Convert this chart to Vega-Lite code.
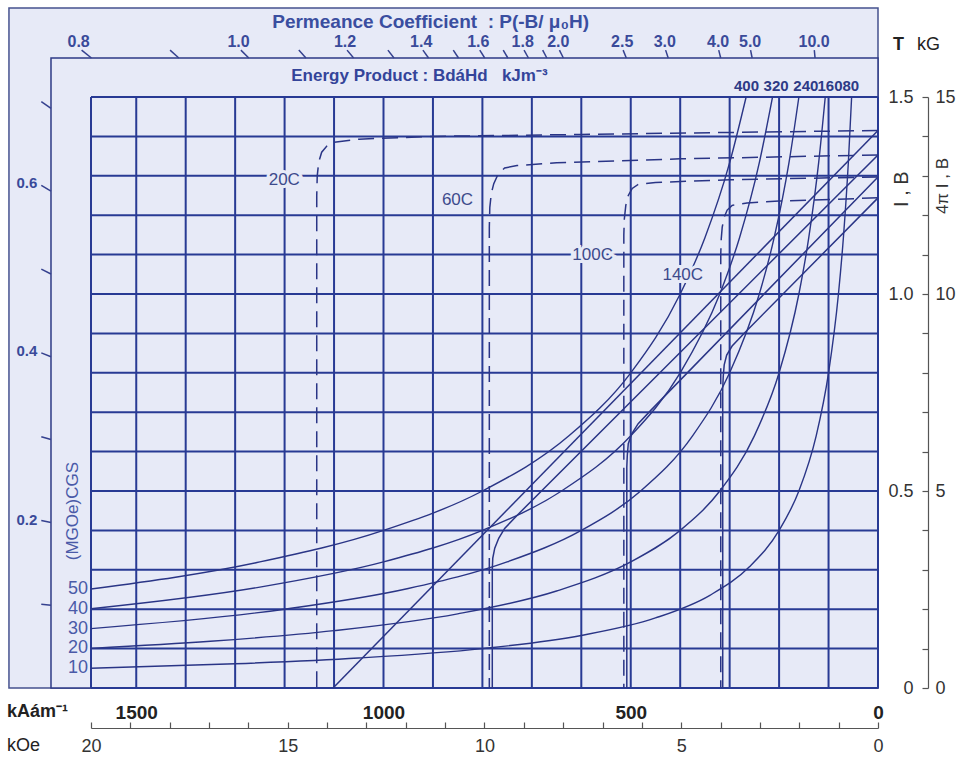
{
"$schema":"https://vega.github.io/schema/vega-lite/v6.json",
"width":787,"height":591,
"autosize":{"type":"none"},
"padding":{"left":91,"top":97,"right":83,"bottom":75},
"background":"#ffffff",
"config":{"view":{"stroke":null},"font":"Liberation Sans","text":{"font":"Liberation Sans"}},
"resolve":{"axis":{"x":"independent","y":"independent"}},
"encoding":{
 "x":{"field":"h","type":"quantitative","scale":{"domain":[0,1591.5],"reverse":true,"nice":false,"zero":false},"axis":null},
 "y":{"field":"b","type":"quantitative","scale":{"domain":[0,1.5],"nice":false,"zero":false},"axis":null}
},
"layer":[
 {"data":{"values":[{"h":1757.4,"h2":0,"b":0,"b2":1.726}]},
  "mark":{"type":"rect","fill":"#e7eaf7","stroke":"#46528f","strokeWidth":1.5},
  "encoding":{"x2":{"field":"h2"},"y2":{"field":"b2"}}},
 {"data":{"values":[{"h":1672.4,"h2":0,"b":0,"b2":1.599}]},
  "mark":{"type":"rect","fill":"#e7eaf7","stroke":"#2e3a86","strokeWidth":1.5},
  "encoding":{"x2":{"field":"h2"},"y2":{"field":"b2"}}},
 {"data":{"values":[
  {"h":0,"h2":0,"b":0,"b2":1.5},{"h":100,"h2":100,"b":0,"b2":1.5},{"h":200,"h2":200,"b":0,"b2":1.5},{"h":300,"h2":300,"b":0,"b2":1.5},{"h":400,"h2":400,"b":0,"b2":1.5},{"h":500,"h2":500,"b":0,"b2":1.5},{"h":600,"h2":600,"b":0,"b2":1.5},{"h":700,"h2":700,"b":0,"b2":1.5},{"h":800,"h2":800,"b":0,"b2":1.5},{"h":900,"h2":900,"b":0,"b2":1.5},{"h":1000,"h2":1000,"b":0,"b2":1.5},{"h":1100,"h2":1100,"b":0,"b2":1.5},{"h":1200,"h2":1200,"b":0,"b2":1.5},{"h":1300,"h2":1300,"b":0,"b2":1.5},{"h":1400,"h2":1400,"b":0,"b2":1.5},{"h":1500,"h2":1500,"b":0,"b2":1.5},{"h":1591.5,"h2":1591.5,"b":0,"b2":1.5},
  {"h":0,"h2":1591.5,"b":0,"b2":0},{"h":0,"h2":1591.5,"b":0.1,"b2":0.1},{"h":0,"h2":1591.5,"b":0.2,"b2":0.2},{"h":0,"h2":1591.5,"b":0.3,"b2":0.3},{"h":0,"h2":1591.5,"b":0.4,"b2":0.4},{"h":0,"h2":1591.5,"b":0.5,"b2":0.5},{"h":0,"h2":1591.5,"b":0.6,"b2":0.6},{"h":0,"h2":1591.5,"b":0.7,"b2":0.7},{"h":0,"h2":1591.5,"b":0.8,"b2":0.8},{"h":0,"h2":1591.5,"b":0.9,"b2":0.9},{"h":0,"h2":1591.5,"b":1.0,"b2":1.0},{"h":0,"h2":1591.5,"b":1.1,"b2":1.1},{"h":0,"h2":1591.5,"b":1.2,"b2":1.2},{"h":0,"h2":1591.5,"b":1.3,"b2":1.3},{"h":0,"h2":1591.5,"b":1.4,"b2":1.4},{"h":0,"h2":1591.5,"b":1.5,"b2":1.5}
 ]},
  "mark":{"type":"rule","color":"#283a94","strokeWidth":2},
  "encoding":{"x2":{"field":"h2"},"y2":{"field":"b2"}}},
 {"data":{"values":[
  {"e":"80","h":53.33,"b":1.5},{"e":"80","h":60,"b":1.3333},{"e":"80","h":70,"b":1.1429},{"e":"80","h":80,"b":1.0},{"e":"80","h":100,"b":0.8},{"e":"80","h":125,"b":0.64},{"e":"80","h":160,"b":0.5},{"e":"80","h":200,"b":0.4},{"e":"80","h":260,"b":0.3077},{"e":"80","h":340,"b":0.2353},{"e":"80","h":450,"b":0.1778},{"e":"80","h":600,"b":0.1333},{"e":"80","h":800,"b":0.1},{"e":"80","h":1050,"b":0.0762},{"e":"80","h":1300,"b":0.0615},{"e":"80","h":1591.5,"b":0.0503},
  {"e":"160","h":106.67,"b":1.5},{"e":"160","h":120,"b":1.3333},{"e":"160","h":140,"b":1.1429},{"e":"160","h":160,"b":1.0},{"e":"160","h":200,"b":0.8},{"e":"160","h":250,"b":0.64},{"e":"160","h":320,"b":0.5},{"e":"160","h":400,"b":0.4},{"e":"160","h":500,"b":0.32},{"e":"160","h":650,"b":0.2462},{"e":"160","h":850,"b":0.1882},{"e":"160","h":1100,"b":0.1455},{"e":"160","h":1350,"b":0.1185},{"e":"160","h":1591.5,"b":0.1005},
  {"e":"240","h":160,"b":1.5},{"e":"240","h":180,"b":1.3333},{"e":"240","h":210,"b":1.1429},{"e":"240","h":240,"b":1.0},{"e":"240","h":300,"b":0.8},{"e":"240","h":375,"b":0.64},{"e":"240","h":480,"b":0.5},{"e":"240","h":600,"b":0.4},{"e":"240","h":750,"b":0.32},{"e":"240","h":950,"b":0.2526},{"e":"240","h":1200,"b":0.2},{"e":"240","h":1591.5,"b":0.1508},
  {"e":"320","h":213.33,"b":1.5},{"e":"320","h":240,"b":1.3333},{"e":"320","h":280,"b":1.1429},{"e":"320","h":320,"b":1.0},{"e":"320","h":400,"b":0.8},{"e":"320","h":500,"b":0.64},{"e":"320","h":640,"b":0.5},{"e":"320","h":800,"b":0.4},{"e":"320","h":1000,"b":0.32},{"e":"320","h":1250,"b":0.256},{"e":"320","h":1591.5,"b":0.2011},
  {"e":"400","h":266.67,"b":1.5},{"e":"400","h":300,"b":1.3333},{"e":"400","h":350,"b":1.1429},{"e":"400","h":400,"b":1.0},{"e":"400","h":500,"b":0.8},{"e":"400","h":625,"b":0.64},{"e":"400","h":800,"b":0.5},{"e":"400","h":1000,"b":0.4},{"e":"400","h":1250,"b":0.32},{"e":"400","h":1591.5,"b":0.2513}
 ]},
  "mark":{"type":"line","color":"#2a3586","strokeWidth":1.4,"interpolate":"monotone"},
  "encoding":{"detail":{"field":"e"}}},
 {"data":{"values":[
  {"t":"20C","i":1,"h":0,"b":1.415},{"t":"20C","i":2,"h":1102,"b":0},
  {"t":"60C","i":1,"h":0,"b":1.353},{"t":"60C","i":2,"h":730,"b":0.438},{"t":"60C","i":3,"h":755,"b":0.405},{"t":"60C","i":4,"h":767,"b":0.38},{"t":"60C","i":5,"h":775,"b":0.355},{"t":"60C","i":6,"h":779,"b":0.33},{"t":"60C","i":7,"h":780,"b":0.3},{"t":"60C","i":8,"h":780,"b":0},
  {"t":"100C","i":1,"h":0,"b":1.297},{"t":"100C","i":2,"h":460,"b":0.704},{"t":"100C","i":3,"h":485,"b":0.671},{"t":"100C","i":4,"h":498,"b":0.645},{"t":"100C","i":5,"h":505,"b":0.62},{"t":"100C","i":6,"h":507,"b":0.59},{"t":"100C","i":7,"h":508,"b":0.56},{"t":"100C","i":8,"h":508,"b":0},
  {"t":"140C","i":1,"h":0,"b":1.244},{"t":"140C","i":2,"h":270,"b":0.901},{"t":"140C","i":3,"h":295,"b":0.868},{"t":"140C","i":4,"h":306,"b":0.845},{"t":"140C","i":5,"h":311,"b":0.82},{"t":"140C","i":6,"h":313,"b":0.79},{"t":"140C","i":7,"h":314,"b":0.76},{"t":"140C","i":8,"h":314,"b":0}
 ]},
  "mark":{"type":"line","color":"#2a3586","strokeWidth":1.5},
  "encoding":{"detail":{"field":"t"},"order":{"field":"i"}}},
 {"data":{"values":[
  {"t":"20C","i":1,"h":0,"b":1.415},{"t":"20C","i":2,"h":300,"b":1.41},{"t":"20C","i":3,"h":600,"b":1.405},{"t":"20C","i":4,"h":900,"b":1.4},{"t":"20C","i":5,"h":1050,"b":1.393},{"t":"20C","i":6,"h":1100,"b":1.385},{"t":"20C","i":7,"h":1115,"b":1.375},{"t":"20C","i":8,"h":1125,"b":1.36},{"t":"20C","i":9,"h":1131,"b":1.335},{"t":"20C","i":10,"h":1134,"b":1.3},{"t":"20C","i":11,"h":1135,"b":1.25},{"t":"20C","i":12,"h":1135,"b":0},
  {"t":"60C","i":1,"h":0,"b":1.353},{"t":"60C","i":2,"h":400,"b":1.343},{"t":"60C","i":3,"h":650,"b":1.333},{"t":"60C","i":4,"h":730,"b":1.326},{"t":"60C","i":5,"h":755,"b":1.32},{"t":"60C","i":6,"h":768,"b":1.305},{"t":"60C","i":7,"h":777,"b":1.28},{"t":"60C","i":8,"h":782,"b":1.255},{"t":"60C","i":9,"h":785,"b":1.22},{"t":"60C","i":10,"h":786,"b":1.17},{"t":"60C","i":11,"h":786,"b":0},
  {"t":"100C","i":1,"h":0,"b":1.297},{"t":"100C","i":2,"h":300,"b":1.29},{"t":"100C","i":3,"h":450,"b":1.283},{"t":"100C","i":4,"h":485,"b":1.278},{"t":"100C","i":5,"h":497,"b":1.268},{"t":"100C","i":6,"h":505,"b":1.25},{"t":"100C","i":7,"h":510,"b":1.225},{"t":"100C","i":8,"h":513,"b":1.19},{"t":"100C","i":9,"h":514,"b":1.15},{"t":"100C","i":10,"h":514,"b":0},
  {"t":"140C","i":1,"h":0,"b":1.244},{"t":"140C","i":2,"h":200,"b":1.236},{"t":"140C","i":3,"h":265,"b":1.231},{"t":"140C","i":4,"h":295,"b":1.225},{"t":"140C","i":5,"h":305,"b":1.213},{"t":"140C","i":6,"h":311,"b":1.195},{"t":"140C","i":7,"h":315,"b":1.17},{"t":"140C","i":8,"h":317,"b":1.14},{"t":"140C","i":9,"h":318,"b":1.1},{"t":"140C","i":10,"h":318,"b":0}
 ]},
  "mark":{"type":"line","color":"#2a3586","strokeWidth":1.5,"strokeDash":[16,8]},
  "encoding":{"detail":{"field":"t"},"order":{"field":"i"}}},
 {"data":{"values":[{"s":"20C","h":1200.6,"b":1.289},{"s":"60C","h":850.4,"b":1.239},{"s":"100C","h":577,"b":1.099},{"s":"140C","h":394.8,"b":1.048}]},
  "mark":{"type":"text","fontSize":17,"fill":"#e7eaf7","stroke":"#e7eaf7","strokeWidth":6,"align":"center","baseline":"middle"},
  "encoding":{"text":{"field":"s"}}},
 {"data":{"values":[{"s":"20C","h":1200.6,"b":1.289},{"s":"60C","h":850.4,"b":1.239},{"s":"100C","h":577,"b":1.099},{"s":"140C","h":394.8,"b":1.048}]},
  "mark":{"type":"text","fontSize":17,"color":"#3d4a8c","align":"center","baseline":"middle"},
  "encoding":{"text":{"field":"s"}}},
 {"data":{"values":[
  {"h":1590.6,"h2":1610.5,"b":1.599,"b2":1.619},{"h":1413.9,"h2":1431.6,"b":1.599,"b2":1.619},{"h":1272.5,"h2":1288.4,"b":1.599,"b2":1.619},{"h":1156.8,"h2":1171.3,"b":1.599,"b2":1.619},{"h":1060.4,"h2":1073.7,"b":1.599,"b2":1.619},{"h":978.8,"h2":991.1,"b":1.599,"b2":1.619},{"h":908.9,"h2":920.3,"b":1.599,"b2":1.619},{"h":848.3,"h2":858.9,"b":1.599,"b2":1.619},{"h":795.3,"h2":805.3,"b":1.599,"b2":1.619},{"h":748.5,"h2":757.9,"b":1.599,"b2":1.619},{"h":706.9,"h2":715.8,"b":1.599,"b2":1.619},{"h":669.7,"h2":678.1,"b":1.599,"b2":1.619},{"h":636.3,"h2":644.2,"b":1.599,"b2":1.619},{"h":509.0,"h2":515.4,"b":1.599,"b2":1.619},{"h":424.2,"h2":429.5,"b":1.599,"b2":1.619},{"h":318.1,"h2":322.1,"b":1.599,"b2":1.619},{"h":254.5,"h2":257.7,"b":1.599,"b2":1.619},{"h":127.3,"h2":128.8,"b":1.599,"b2":1.619},
  {"h":1672.4,"h2":1692,"b":0.2102,"b2":0.2126},{"h":1672.4,"h2":1692,"b":0.4203,"b2":0.4252},{"h":1672.4,"h2":1692,"b":0.6305,"b2":0.6379},{"h":1672.4,"h2":1692,"b":0.8406,"b2":0.8505},{"h":1672.4,"h2":1692,"b":1.0508,"b2":1.0631},{"h":1672.4,"h2":1692,"b":1.261,"b2":1.2757},{"h":1672.4,"h2":1692,"b":1.4711,"b2":1.4883}
 ]},
  "mark":{"type":"rule","color":"#35418f","strokeWidth":1.5},
  "encoding":{"x2":{"field":"h2"},"y2":{"field":"b2"}}},
 {"data":{"values":[{"s":"0.8","h":1616.5,"b":1.64},{"s":"1.0","h":1293.2,"b":1.64},{"s":"1.2","h":1077.7,"b":1.64},{"s":"1.4","h":923.7,"b":1.64},{"s":"1.6","h":808.3,"b":1.64},{"s":"1.8","h":718.4,"b":1.64},{"s":"2.0","h":646.6,"b":1.64},{"s":"2.5","h":517.3,"b":1.64},{"s":"3.0","h":431.1,"b":1.64},{"s":"4.0","h":323.3,"b":1.64},{"s":"5.0","h":258.6,"b":1.64},{"s":"10.0","h":129.3,"b":1.64}]},
  "mark":{"type":"text","fontSize":16,"fontWeight":"bold","color":"#3a4a9a","align":"center","baseline":"middle"},
  "encoding":{"text":{"field":"s"}}},
 {"data":{"values":[{"s":"0.2","h":1700,"b":0.4273},{"s":"0.4","h":1700,"b":0.8545},{"s":"0.6","h":1700,"b":1.2818}]},
  "mark":{"type":"text","fontSize":15,"fontWeight":"bold","color":"#3a4a9a","align":"right","baseline":"middle"},
  "encoding":{"text":{"field":"s"}}},
 {"data":{"values":[{"s":"400","h":266,"b":1.528},{"s":"320","h":206,"b":1.528},{"s":"240","h":146,"b":1.528},{"s":"160","h":97,"b":1.528},{"s":"80","h":55,"b":1.528}]},
  "mark":{"type":"text","fontSize":15,"fontWeight":"bold","color":"#2e3a86","align":"center","baseline":"middle"},
  "encoding":{"text":{"field":"s"}}},
 {"data":{"values":[{"s":"50","h":1597.5,"b":0.2513},{"s":"40","h":1597.5,"b":0.2011},{"s":"30","h":1597.5,"b":0.1508},{"s":"20","h":1597.5,"b":0.1005},{"s":"10","h":1597.5,"b":0.0503}]},
  "mark":{"type":"text","fontSize":18,"color":"#4a5aa8","align":"right","baseline":"middle"},
  "encoding":{"text":{"field":"s"}}},
 {"data":{"values":[{"s":"(MGOe)CGS","h":1627.9,"b":0.449}]},
  "mark":{"type":"text","fontSize":17,"color":"#4a5aa8","align":"center","baseline":"middle","angle":270},
  "encoding":{"text":{"field":"s"}}},
 {"data":{"values":[{"s":"Permeance Coefficient\u00a0\u00a0: P(-B/ μ₀H)","h":1225,"b":1.69}]},
  "mark":{"type":"text","fontSize":19,"fontWeight":"bold","color":"#3a4ea0","align":"left","baseline":"middle"},
  "encoding":{"text":{"field":"s"}}},
 {"data":{"values":[{"s":"Energy Product : BdáHd\u00a0\u00a0\u00a0kJm⁻³","h":1186.5,"b":1.553}]},
  "mark":{"type":"text","fontSize":17,"fontWeight":"bold","color":"#34449a","align":"left","baseline":"middle"},
  "encoding":{"text":{"field":"s"}}},
 {"data":{"values":[{"s":"I , B","h":-48.6,"b":1.266}]},
  "mark":{"type":"text","fontSize":20,"color":"#333333","align":"center","baseline":"middle","angle":270},
  "encoding":{"text":{"field":"s"}}},
 {"data":{"values":[{"s":"4π I , B","h":-131.6,"b":1.274}]},
  "mark":{"type":"text","fontSize":17,"color":"#333333","align":"center","baseline":"middle","angle":270},
  "encoding":{"text":{"field":"s"}}},
 {"data":{"values":[{"s":"T","h":-30.4,"b":1.632},{"s":"kAám⁻¹","h":1761.5,"b":-0.0609}]},
  "mark":{"type":"text","fontSize":18,"fontWeight":"bold","color":"#222222","align":"left","baseline":"middle"},
  "encoding":{"text":{"field":"s"}}},
 {"data":{"values":[{"s":"kG","h":-79,"b":1.632},{"s":"kOe","h":1761.5,"b":-0.1472}]},
  "mark":{"type":"text","fontSize":18,"color":"#222222","align":"left","baseline":"middle"},
  "encoding":{"text":{"field":"s"}}},
 {"data":{"values":[{"h":0,"b":0}]},
  "mark":{"type":"point","opacity":0},
  "encoding":{
   "x":{"field":"h","type":"quantitative","scale":{"domain":[0,1591.5],"reverse":true,"nice":false,"zero":false},
    "axis":{"orient":"bottom","offset":0,"domain":false,"ticks":false,"tickSize":0,"labelPadding":15,"values":[0,500,1000,1500],"labelExpr":"'' + datum.value","labelFontSize":19,"labelFontWeight":"bold","labelColor":"#222222","labelFont":"Liberation Sans","labelFlush":false,"labelOverlap":false,"title":null,"grid":false}},
   "y":{"field":"b","type":"quantitative","scale":{"domain":[0,1.5],"nice":false,"zero":false},
    "axis":{"orient":"right","offset":35,"domain":false,"ticks":false,"tickSize":0,"labelPadding":0,"labelAlign":"right","values":[0,0.5,1,1.5],"labelExpr":"datum.value == 0 ? '0' : format(datum.value, '.1f')","labelFontSize":18,"labelColor":"#333333","labelFont":"Liberation Sans","labelFlush":false,"labelOverlap":false,"title":null,"grid":false}}}},
 {"data":{"values":[{"h":0,"b":0}]},
  "mark":{"type":"point","opacity":0},
  "encoding":{
   "x":{"field":"h","type":"quantitative","scale":{"domain":[0,1591.5],"reverse":true,"nice":false,"zero":false},
    "axis":{"orient":"bottom","offset":34,"domain":false,"ticks":true,"tickSize":6,"tickColor":"#555555","tickWidth":1.2,"labels":false,"values":[0,79.58,159.16,238.73,318.31,397.89,477.47,557.04,636.62,716.2,795.77,875.35,954.93,1034.51,1114.08,1193.66,1273.24,1352.82,1432.4,1511.97,1591.5],"title":null,"grid":false}},
   "y":{"field":"b","type":"quantitative","scale":{"domain":[0,1.5],"nice":false,"zero":false},
    "axis":{"orient":"right","offset":44,"domain":false,"ticks":true,"tickSize":6,"tickColor":"#555555","tickWidth":1.2,"labels":false,"values":[0,0.1,0.2,0.3,0.4,0.5,0.6,0.7,0.8,0.9,1.0,1.1,1.2,1.3,1.4,1.5],"title":null,"grid":false}}}},
 {"data":{"values":[{"h":0,"b":0}]},
  "mark":{"type":"point","opacity":0},
  "encoding":{
   "x":{"field":"h","type":"quantitative","scale":{"domain":[0,1591.5],"reverse":true,"nice":false,"zero":false},
    "axis":{"orient":"bottom","offset":40,"domain":true,"domainColor":"#555555","domainWidth":1.2,"ticks":false,"tickSize":0,"labelPadding":9,"values":[0,397.89,795.77,1193.66,1591.5],"labelExpr":"'' + round(datum.value/79.5775)","labelFontSize":18,"labelColor":"#333333","labelFont":"Liberation Sans","labelFlush":false,"labelOverlap":false,"title":null,"grid":false}},
   "y":{"field":"b","type":"quantitative","scale":{"domain":[0,1.5],"nice":false,"zero":false},
    "axis":{"orient":"right","offset":50,"domain":true,"domainColor":"#555555","domainWidth":1.2,"ticks":false,"tickSize":0,"labelPadding":7,"values":[0,0.5,1,1.5],"labelExpr":"'' + round(datum.value*10)","labelFontSize":18,"labelColor":"#333333","labelFont":"Liberation Sans","labelFlush":false,"labelOverlap":false,"title":null,"grid":false}}}}
]
}
